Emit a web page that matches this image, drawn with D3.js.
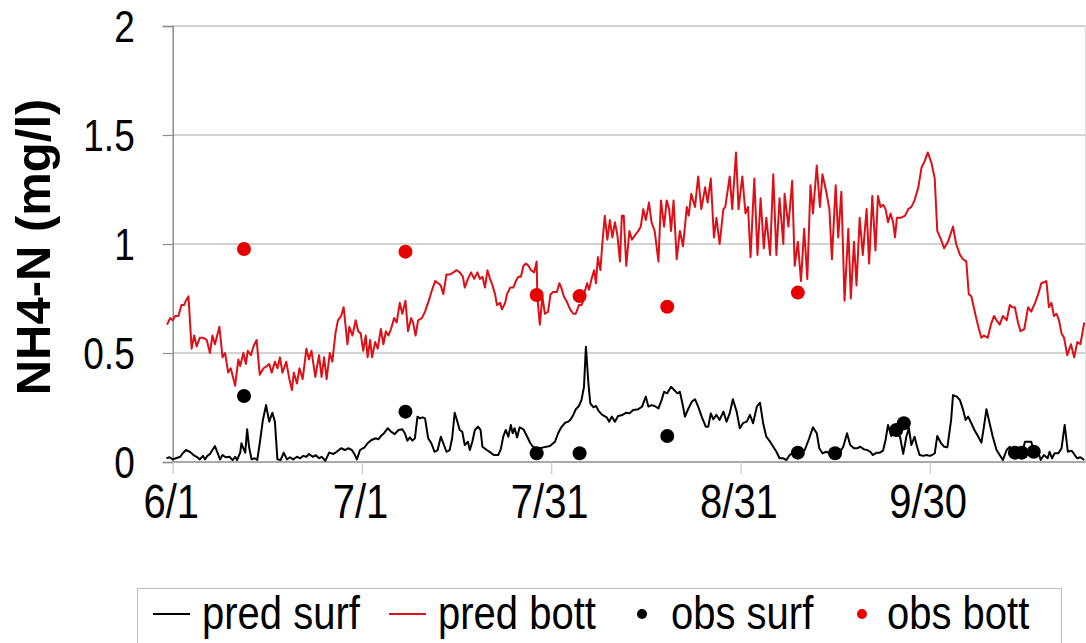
<!DOCTYPE html>
<html>
<head>
<meta charset="utf-8">
<script src="https://cdn.jsdelivr.net/npm/d3@7"></script>
<style>
  html, body { margin: 0; padding: 0; background: #fff; }
  svg { display: block; }
  text { font-family: "Liberation Sans", Arial, sans-serif; fill: #000; }
</style>
</head>
<body>
<svg id="chart" width="1086" height="643"></svg>
<script>
// ---------------- data (day index: 0 = 6/1) ----------------
const xTickDays   = [0, 30, 60, 90, 120];
const xTickLabels = ["6/1", "7/1", "7/31", "8/31", "9/30"];
const yTicks      = [0, 0.5, 1, 1.5, 2];
const yTickLabels = ["0", "0.5", "1", "1.5", "2"];
const seriesNames = ["pred surf", "pred bott", "obs surf", "obs bott"];

const predSurf = [
[-1.0,0.017],[-0.5,0.022],[0,0.012],[0.5,0.017],[1.2,0.024],[1.6,0.040],[2.1,0.055],[2.7,0.047],[3.3,0.032],[3.8,0.024],[4.3,0.012],[4.8,0.028],[5.1,0.012],[5.5,0.028],[5.9,0.037],[6.3,0.055],[6.7,0.073],[7.1,0.043],[7.5,0.012],[7.9,0.032],[8.4,0.022],[9.0,0.024],[9.5,0.009],[9.9,0.024],[10.2,0.009],[10.7,0.043],[10.9,0.086],[11.2,0.063],[11.5,0.043],[11.8,0.150],[12.1,0.070],[12.5,0.012],[13.0,0.017],[13.4,0.009],[13.8,0.086],[14.3,0.193],[14.8,0.261],[15.3,0.185],[15.8,0.226],[16.2,0.185],[16.6,0.012],[17.1,0.009],[17.6,0.043],[18.1,0.012],[18.6,0.022],[19.1,0.012],[19.7,0.024],[20.2,0.017],[20.7,0.028],[21.2,0.024],[21.6,0.037],[22.2,0.024],[22.7,0.031],
[23.2,0.017],[23.6,0.024],[24.2,0.006],[24.8,0.043],[25.5,0.037],[26.0,0.047],[26.7,0.063],[27.3,0.055],[27.8,0.063],[28.4,0.055],[28.8,0.037],[29.2,0.012],[29.7,0.055],[30.4,0.067],[30.9,0.086],[31.5,0.101],[32.2,0.109],[32.6,0.104],[33.0,0.119],[33.5,0.132],[34.1,0.155],[34.6,0.139],[35.2,0.128],[35.8,0.147],[36.4,0.150],[36.8,0.132],[37.2,0.098],[37.6,0.113],[38.0,0.098],[38.4,0.109],[38.8,0.208],[39.2,0.200],[39.6,0.205],[40.0,0.200],[40.5,0.109],[41.0,0.086],[41.5,0.047],[42.0,0.055],[42.5,0.116],[42.9,0.086],[43.4,0.047],[43.9,0.055],[44.3,0.109],[44.7,0.226],[45.2,0.178],[45.5,0.147],[45.9,0.139],[46.3,0.078],[46.8,0.093],[47.1,0.055],
[47.5,0.093],[47.9,0.147],[48.4,0.162],[48.8,0.147],[49.1,0.070],[49.8,0.055],[50.4,0.043],[50.9,0.032],[51.6,0.032],[52.0,0.058],[52.4,0.116],[52.8,0.147],[53.2,0.116],[53.6,0.170],[53.9,0.132],[54.2,0.155],[54.6,0.113],[55.0,0.159],[55.6,0.150],[56.2,0.116],[56.7,0.086],[57.1,0.070],[57.7,0.063],[58.2,0.063],[58.8,0.067],[59.8,0.073],[60.6,0.093],[61.1,0.132],[61.6,0.159],[62.2,0.180],[62.7,0.185],[63.1,0.196],[63.5,0.216],[63.9,0.242],[64.4,0.257],[64.8,0.284],[65.2,0.345],[65.5,0.529],[65.9,0.361],[66.2,0.269],[66.7,0.251],[67.1,0.257],[67.6,0.231],[68.1,0.216],[68.8,0.205],[69.2,0.185],[69.6,0.208],[70.1,0.185],[70.6,0.211],[71.3,0.216],[71.9,0.226],[72.4,0.223],
[73.0,0.239],[73.8,0.242],[74.4,0.254],[75.0,0.300],[75.4,0.254],[75.9,0.261],[76.4,0.257],[77.0,0.246],[77.5,0.284],[77.9,0.322],[78.4,0.315],[79.0,0.345],[79.5,0.330],[80.0,0.315],[80.4,0.322],[80.8,0.269],[81.2,0.208],[81.7,0.242],[82.3,0.277],[82.8,0.288],[83.3,0.254],[83.9,0.205],[84.5,0.162],[84.9,0.162],[85.3,0.223],[85.7,0.196],[86.2,0.216],[86.7,0.193],[87.3,0.231],[87.8,0.185],[88.3,0.223],[88.8,0.288],[89.4,0.231],[89.9,0.155],[90.4,0.178],[91.0,0.185],[91.5,0.216],[92.0,0.178],[92.6,0.254],[93.1,0.272],[93.6,0.178],[94.1,0.116],[94.7,0.093],[95.2,0.070],[95.7,0.047],[96.2,0.017],[96.8,0.017],
[97.3,0.009],[97.8,0.032],[98.6,0.047],[99.4,0.037],[100.2,0.055],[100.9,0.109],[101.5,0.159],[102.1,0.132],[102.5,0.063],[103.0,0.040],[103.6,0.047],[104.3,0.037],[104.8,0.043],[105.2,0.052],[105.8,0.047],[106.3,0.070],[106.9,0.132],[107.4,0.078],[108.0,0.063],[108.5,0.063],[109.0,0.070],[109.6,0.058],[110.1,0.055],[110.6,0.047],[111.0,0.032],[111.6,0.043],[112.1,0.043],[112.6,0.052],[113.0,0.101],[113.4,0.170],[113.9,0.119],[114.5,0.162],[114.8,0.132],[115.3,0.116],[115.8,0.037],[116.3,0.116],[116.7,0.155],[117.1,0.078],[117.6,0.116],[118.0,0.070],[118.4,0.032],[119.0,0.028],[119.5,0.032],[120.0,0.028],[120.4,0.032],[120.8,0.040],[121.2,0.119],[121.8,0.086],[122.3,0.070],[122.8,0.067],[123.4,0.193],[123.7,0.307],[124.3,0.300],[124.8,0.284],[125.3,0.239],[125.7,0.193],[126.1,0.208],[126.6,0.178],[127.1,0.147],[127.7,0.116],[128.2,0.089],[128.6,0.162],[129.0,0.242],[129.5,0.178],[130.0,0.116],[130.6,0.055],[131.1,0.032],[131.6,0.009],[132.2,0.055],[132.7,0.070],[133.2,0.032],[133.9,0.032],[134.6,0.032],[135.1,0.093],[135.6,0.093],[136.1,0.093],[136.5,0.047],[137.2,0.047],[137.6,0.009],[138.1,0.032],[138.7,0.017],[139.0,0.047],[139.4,0.017],[139.8,0.040],[140.4,0.040],[140.9,0.063],[141.4,0.170],[141.9,0.047],[142.5,0.052],[143.0,0.032],[143.4,0.017],[143.9,0.022],[144.5,0.009]
];

const predBott = [
[-0.9,0.63],[-0.4,0.66],[0,0.65],[0.4,0.67],[0.9,0.67],[1.4,0.72],[1.8,0.72],[2.1,0.74],[2.5,0.76],[3.0,0.52],[3.4,0.58],[3.8,0.53],[4.3,0.57],[4.8,0.57],[5.4,0.56],[5.9,0.50],[6.3,0.58],[6.7,0.54],[7.4,0.62],[7.9,0.48],[8.3,0.50],[8.8,0.41],[9.2,0.43],[9.9,0.35],[10.4,0.47],[10.7,0.44],[11.2,0.50],[11.6,0.45],[11.9,0.51],[12.4,0.49],[12.8,0.53],[13.3,0.56],[13.8,0.40],[14.4,0.43],[14.9,0.44],[15.3,0.45],[15.7,0.41],[16.2,0.46],[16.6,0.43],[17.0,0.48],[17.4,0.41],[18.0,0.46],[18.5,0.38],[18.9,0.33],[19.2,0.41],[19.7,0.36],[20.1,0.43],[20.6,0.38],[21.2,0.52],[21.6,0.47],[22.0,0.51],[22.6,0.39],
[23.2,0.49],[23.6,0.39],[24.0,0.48],[24.4,0.38],[24.9,0.50],[25.3,0.46],[25.8,0.59],[26.2,0.65],[26.7,0.67],[27.1,0.71],[27.7,0.54],[28.0,0.62],[28.5,0.58],[29.0,0.65],[29.4,0.60],[29.8,0.59],[30.2,0.51],[30.6,0.58],[30.9,0.48],[31.3,0.56],[31.6,0.48],[32.1,0.55],[32.5,0.52],[33.0,0.61],[33.4,0.54],[33.8,0.60],[34.2,0.58],[34.6,0.61],[35.1,0.66],[35.5,0.64],[36.0,0.73],[36.4,0.68],[36.9,0.74],[37.3,0.60],[37.8,0.66],[38.1,0.64],[38.5,0.58],[38.9,0.65],[39.5,0.66],[40.0,0.69],[40.6,0.74],[41.0,0.78],[41.6,0.83],[42.1,0.82],[42.5,0.81],[42.9,0.77],[43.4,0.86],[43.9,0.86],[44.5,0.87],[45.0,0.88],[45.5,0.87],[46.0,0.85],[46.3,0.80],[46.8,0.84],[47.3,0.87],[47.8,0.84],
[48.3,0.87],[48.7,0.84],[49.1,0.85],[49.5,0.80],[49.9,0.88],[50.3,0.84],[50.7,0.81],[51.1,0.77],[51.4,0.72],[51.9,0.73],[52.2,0.70],[52.7,0.73],[53.0,0.77],[53.5,0.80],[54.0,0.80],[54.4,0.83],[54.8,0.85],[55.2,0.85],[55.6,0.90],[56.0,0.91],[56.4,0.90],[56.8,0.88],[57.3,0.87],[57.7,0.92],[57.8,0.76],[58.2,0.63],[58.6,0.76],[59.0,0.68],[59.5,0.69],[59.9,0.77],[60.3,0.78],[60.9,0.78],[61.3,0.82],[61.6,0.80],[62.0,0.76],[62.4,0.74],[63.0,0.70],[63.5,0.68],[63.9,0.68],[64.4,0.72],[64.8,0.72],[65.1,0.74],[65.3,0.78],[65.7,0.82],[66.0,0.79],[66.4,0.84],[66.8,0.88],[67.1,0.82],[67.4,0.94],[67.8,0.88],[68.1,1.00],[68.5,1.13],[68.9,1.02],[69.3,1.11],[69.7,1.03],[70.1,1.10],[70.5,1.04],[70.9,0.92],[71.2,1.13],[71.5,1.13],[71.9,0.90],[72.4,1.06],
[72.8,1.02],[73.3,1.04],[73.8,1.06],[74.2,1.08],[74.6,1.16],[75.0,1.11],[75.5,1.19],[75.9,1.10],[76.4,1.06],[77.0,0.92],[77.4,1.20],[77.9,1.08],[78.3,1.20],[78.7,1.16],[79.0,1.06],[79.4,1.20],[79.9,0.93],[80.4,1.06],[80.9,0.99],[81.5,1.17],[81.8,1.13],[82.2,1.23],[82.8,1.17],[83.3,1.31],[83.8,1.16],[84.4,1.26],[84.8,1.19],[85.3,1.30],[85.8,1.03],[86.2,1.12],[86.7,1.00],[87.3,1.16],[87.6,1.17],[88.3,1.31],[88.7,1.16],[89.3,1.42],[89.7,1.16],[90.3,1.31],[90.8,1.14],[91.2,1.17],[91.6,0.94],[92.2,1.30],[92.7,0.95],[93.2,1.21],[93.7,0.98],[94.1,1.12],[94.7,0.95],[95.2,1.32],[95.7,0.95],[96.2,1.21],[96.8,1.00],
[97.0,1.23],[97.6,1.08],[98.2,1.29],[98.6,0.90],[99.1,1.01],[99.6,0.83],[100.1,1.07],[100.6,0.84],[101.1,1.27],[101.5,1.14],[102.1,1.36],[102.6,1.17],[103.0,1.32],[103.6,1.24],[104.1,1.16],[104.5,0.93],[105.1,1.27],[105.5,1.03],[106.0,1.24],[106.5,0.74],[107.1,1.07],[107.5,0.75],[108.0,1.01],[108.4,0.81],[108.9,1.12],[109.4,0.95],[110.0,1.16],[110.4,0.91],[110.9,1.22],[111.4,0.97],[111.8,1.22],[112.2,1.17],[112.6,1.18],[113.0,1.16],[113.4,1.10],[113.8,1.14],[114.2,1.10],[114.5,1.03],[114.8,1.12],[115.4,1.12],[116.1,1.13],[116.6,1.16],[117.1,1.17],[117.6,1.20],[118.2,1.26],[118.7,1.35],[119.2,1.38],[119.7,1.42],[120.3,1.37],[120.8,1.30],[121.2,1.06],
[121.8,1.02],[122.3,0.98],[122.9,1.01],[123.7,1.08],[124.2,1.00],[124.8,0.95],[125.3,0.93],[125.8,0.92],[126.2,0.77],[126.6,0.76],[127.3,0.67],[127.8,0.61],[128.2,0.57],[128.6,0.58],[129.2,0.57],[129.7,0.63],[130.2,0.67],[130.6,0.65],[131.1,0.63],[131.6,0.67],[132.2,0.65],[132.7,0.72],[133.1,0.71],[133.5,0.71],[134.0,0.64],[134.4,0.60],[135.0,0.61],[135.6,0.71],[136.1,0.69],[136.7,0.73],[137.2,0.77],[137.7,0.82],[138.5,0.83],[138.9,0.71],[139.3,0.73],[139.7,0.67],[140.1,0.68],[140.5,0.65],[140.9,0.59],[141.3,0.57],[141.8,0.49],[142.4,0.54],[142.9,0.48],[143.4,0.55],[143.9,0.54],[144.5,0.64]
];

const obsSurfDays = [11.3, 36.9, 57.7, 64.5, 78.4, 99.1, 105.0, 114.7, 115.9, 133.5, 134.6, 136.5];
const obsSurfVals = [0.303, 0.231, 0.040, 0.040, 0.119, 0.043, 0.040, 0.147, 0.178, 0.043, 0.043, 0.047];
const obsBottDays = [11.3, 36.9, 57.7, 64.5, 78.4, 99.1];
const obsBottVals = [0.977, 0.965, 0.766, 0.761, 0.712, 0.777];

// ---------------- layout ----------------
const svg = d3.select("#chart");
const plot = { left: 172.7, right: 1085.5, top: 26, bottom: 462 };
const dayMax = 144.7;
const RED = "#dc1016", RED_DOT = "#e60000", GRID = "#a6a6a6", AXIS = "#8c8c8c";
const FONT = '"Liberation Sans", Arial, sans-serif';

const x = d3.scaleLinear().domain([0, dayMax]).range([plot.left, plot.right]);
const y = d3.scaleLinear().domain([0, 2]).range([plot.bottom, plot.top]);

// gridlines
svg.append("g").selectAll("line").data(yTicks.filter(v => v > 0)).join("line")
  .attr("x1", plot.left).attr("x2", plot.right)
  .attr("y1", d => y(d)).attr("y2", d => y(d))
  .attr("stroke", GRID).attr("stroke-width", 1.2);

// right border of plot area (faint)
svg.append("line")
  .attr("x1", plot.right).attr("x2", plot.right)
  .attr("y1", plot.top).attr("y2", plot.bottom)
  .attr("stroke", "#dcdcdc").attr("stroke-width", 1);

// y axis
const yAxis = d3.axisLeft(y).tickValues(yTicks).tickSize(10).tickPadding(28)
  .tickFormat((d, i) => yTickLabels[i]);
const gy = svg.append("g").attr("transform", `translate(${plot.left},0)`).call(yAxis);
gy.select(".domain").attr("stroke", AXIS).attr("stroke-width", 1.5);
gy.selectAll(".tick line").attr("stroke", AXIS).attr("stroke-width", 1.2);
gy.selectAll(".tick text")
  .style("font-family", FONT)
  .style("font-size", "37px").attr("fill", "#000")
  .attr("dy", "0.36em").attr("transform", "scale(1,1.18)");

// x axis
const xAxis = d3.axisBottom(x).tickValues(xTickDays).tickSize(12).tickPadding(0)
  .tickFormat((d, i) => xTickLabels[i]);
const gx = svg.append("g").attr("transform", `translate(0,${plot.bottom})`).call(xAxis);
gx.select(".domain").attr("stroke", AXIS).attr("stroke-width", 1.5)
  .attr("d", `M${plot.left},0H${plot.right}`);
gx.selectAll(".tick line").attr("stroke", "#c8c8c8").attr("stroke-width", 1.2);
gx.selectAll(".tick text")
  .style("font-family", FONT)
  .style("font-size", "40px").attr("fill", "#000")
  .attr("y", 0).attr("dy", 0)
  .attr("transform", "translate(-2,56) scale(1,1.2)");

// y title
svg.append("text")
  .attr("transform", `translate(50,${(plot.top + plot.bottom) / 2 + 3}) rotate(-90)`)
  .attr("text-anchor", "middle")
  .style("font-size", "49px").style("font-weight", "bold")
  .text("NH4-N (mg/l)");

// lines
const line = d3.line().x(d => x(d[0])).y(d => y(d[1]));
svg.append("path").datum(predSurf).attr("d", line)
  .attr("fill", "none").attr("stroke", "#000").attr("stroke-width", 2)
  .attr("stroke-linejoin", "round");
svg.append("path").datum(predBott).attr("d", line)
  .attr("fill", "none").attr("stroke", RED).attr("stroke-width", 2)
  .attr("stroke-linejoin", "round");

// observations
svg.append("g").selectAll("circle").data(obsSurfDays).join("circle")
  .attr("cx", d => x(d)).attr("cy", (d, i) => y(obsSurfVals[i]))
  .attr("r", 7).attr("fill", "#000");
svg.append("g").selectAll("circle").data(obsBottDays).join("circle")
  .attr("cx", d => x(d)).attr("cy", (d, i) => y(obsBottVals[i]))
  .attr("r", 7).attr("fill", RED_DOT);

// legend
const lg = svg.append("g");
lg.append("rect").attr("x", 137.5).attr("y", 588.5).attr("width", 924).attr("height", 70)
  .attr("fill", "#fff").attr("stroke", "#c4c4c4").attr("stroke-width", 1.2);
const legendY = 614, textBase = 629;
const legendItems = [
  { name: seriesNames[0], type: "line", color: "#000", x0: 153, tx: 202 },
  { name: seriesNames[1], type: "line", color: RED, x0: 389, tx: 438 },
  { name: seriesNames[2], type: "dot", color: "#000", x0: 642, tx: 671 },
  { name: seriesNames[3], type: "dot", color: RED_DOT, x0: 862, tx: 887 }
];
legendItems.forEach(it => {
  if (it.type === "line") {
    lg.append("line").attr("x1", it.x0).attr("x2", it.x0 + 37)
      .attr("y1", legendY).attr("y2", legendY)
      .attr("stroke", it.color).attr("stroke-width", 1.8);
  } else {
    lg.append("circle").attr("cx", it.x0).attr("cy", legendY).attr("r", 5)
      .attr("fill", it.color);
  }
  lg.append("text").attr("transform", `translate(${it.tx},${textBase}) scale(1,1.15)`)
    .style("font-size", "40px").text(it.name);
});
</script>
</body>
</html>
